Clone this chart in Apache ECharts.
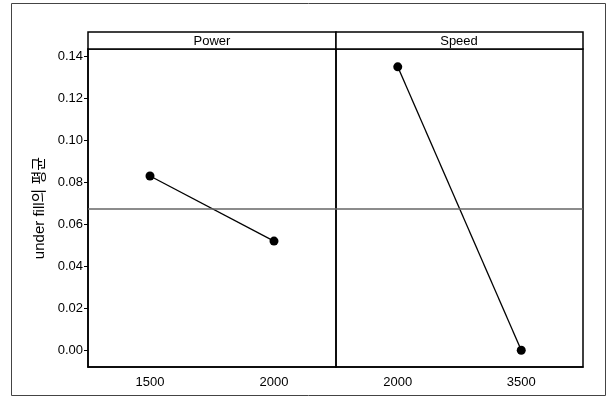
<!DOCTYPE html>
<html>
<head>
<meta charset="utf-8">
<script src="https://cdn.jsdelivr.net/npm/echarts@6/dist/echarts.min.js"></script>
<style>
  html, body { margin: 0; padding: 0; background: #fff; }
  #main { width: 611px; height: 403px; }
</style>
</head>
<body>
<div id="main"></div>
<script>
// data
var powerLevels = ['1500', '2000'];
var powerMeans = [0.083, 0.052];
var speedLevels = ['2000', '3500'];
var speedMeans = [0.135, 0.000];
var grandMean = 0.0675;
var yTicks = [0, 0.02, 0.04, 0.06, 0.08, 0.10, 0.12, 0.14];
var panelNames = ['Power', 'Speed'];

var myChart = echarts.init(document.getElementById('main'));

var font = 'Liberation Sans, Arial, sans-serif';

var meanLine = {
	silent: true,
	symbol: 'none',
	precision: 4,
	label: { show: false },
	lineStyle: { color: '#666', width: 1.5, type: 'solid' },
	data: [{ yAxis: grandMean }]
};

function xAxisFor(idx, levels) {
	return {
		type: 'category', gridIndex: idx, data: levels, boundaryGap: true,
		axisLine: { onZero: false, lineStyle: { color: '#000', width: 1.5 } },
		axisTick: { alignWithLabel: true, length: 4, lineStyle: { color: '#000' } },
		axisLabel: { color: '#000', fontSize: 13, fontFamily: font, margin: 9 }
	};
}

option = {
	backgroundColor: '#fff',
	animation: false,
	graphic: [
		// scan frame
		{ type: 'rect', shape: { x: 11.5, y: 3.5, width: 594, height: 392 },
			style: { fill: 'none', stroke: '#444', lineWidth: 1 } },
		// strips
		{ type: 'rect', shape: { x: 88, y: 32, width: 248, height: 17 },
			style: { fill: '#fff', stroke: '#000', lineWidth: 1.5 } },
		{ type: 'rect', shape: { x: 336, y: 32, width: 247, height: 17 },
			style: { fill: '#fff', stroke: '#000', lineWidth: 1.5 } },
		{ type: 'text', x: 212, y: 41, style: { text: panelNames[0], font: '13px ' + font,
			fill: '#000', textAlign: 'center', textVerticalAlign: 'middle' } },
		{ type: 'text', x: 459, y: 41, style: { text: panelNames[1], font: '13px ' + font,
			fill: '#000', textAlign: 'center', textVerticalAlign: 'middle' } }
	],
	grid: [
		{ left: 88, top: 49, width: 248, bottom: 36, show: true, borderColor: '#000', borderWidth: 1.5 },
		{ left: 336, top: 49, right: 28, bottom: 36, show: true, borderColor: '#000', borderWidth: 1.5 }
	],
	xAxis: [xAxisFor(0, powerLevels), xAxisFor(1, speedLevels)],
	yAxis: [
		{ type: 'value', gridIndex: 0, min: -0.008, max: 0.1435,
			name: 'under fill의 평균', nameLocation: 'middle', nameGap: 41,
			nameTextStyle: { color: '#000', fontSize: 15, fontFamily: 'Liberation Sans, Noto Sans CJK KR, sans-serif' },
			axisLine: { show: true, onZero: false, lineStyle: { color: '#000', width: 1.5 } },
			axisTick: { show: true, length: 4, customValues: yTicks, lineStyle: { color: '#000' } },
			axisLabel: { color: '#000', fontSize: 13, fontFamily: font, margin: 5,
				customValues: yTicks, formatter: function (v) { return v.toFixed(2); } },
			splitLine: { show: false } },
		{ type: 'value', gridIndex: 1, min: -0.008, max: 0.1435,
			axisLine: { show: false }, axisTick: { show: false },
			axisLabel: { show: false }, splitLine: { show: false } }
	],
	series: [
		{ name: panelNames[0], type: 'line', xAxisIndex: 0, yAxisIndex: 0, data: powerMeans,
			symbol: 'circle', symbolSize: 9, itemStyle: { color: '#000' },
			lineStyle: { color: '#000', width: 1.3 }, markLine: meanLine },
		{ name: panelNames[1], type: 'line', xAxisIndex: 1, yAxisIndex: 1, data: speedMeans,
			symbol: 'circle', symbolSize: 9, itemStyle: { color: '#000' },
			lineStyle: { color: '#000', width: 1.3 }, markLine: meanLine }
	]
};

myChart.setOption(option);
</script>
</body>
</html>
